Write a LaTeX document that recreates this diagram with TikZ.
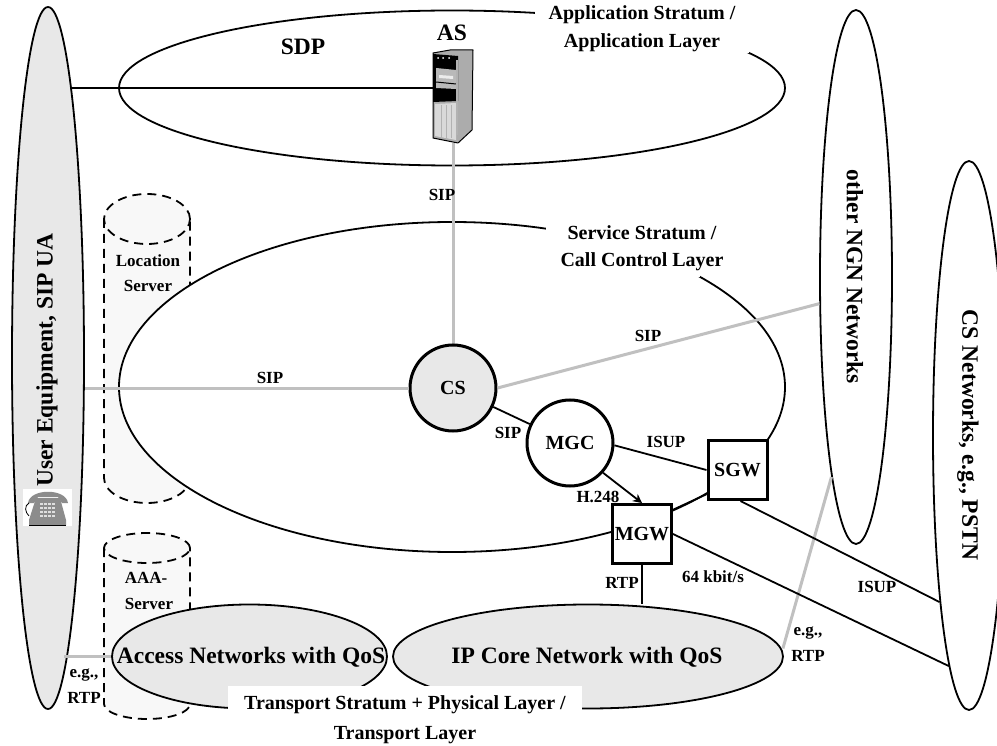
\documentclass[tikz,border=0pt]{standalone}
\usepackage{fontspec}
\setmainfont{Liberation Serif}
\usetikzlibrary{shapes.geometric}
\usetikzlibrary{arrows.meta}
\definecolor{netgray}{HTML}{E8E8E8}
\definecolor{linkgray}{HTML}{C0C0C0}
\definecolor{dbgray}{HTML}{F8F8F8}
\newcommand{\sz}[1]{\fontsize{#1}{#1}\selectfont\bfseries}
\tikzset{x=1pt, y=-1pt,
net/.style={ % the big ovals
ellipse,
draw,
line width=1.8pt,
inner sep=0pt},
stratum/.style={
net,
fill=white},
grayed/.style={
fill=netgray},
ring/.style={
circle,
draw,
line width=3pt,
minimum size=86pt,
inner sep=0pt,
font=\sz{20}},
box/.style={
rectangle,
draw,
line width=3pt,
minimum size=59pt,
inner sep=0pt,
font=\sz{20}},
txt/.style={
inner sep=0pt,
font=\sz{17}},
midtxt/.style={
inner sep=0pt,
font=\sz{20}},
bigtxt/.style={
inner sep=0pt,
font=\sz{23.5}},
link/.style={
draw,
line width=1.8pt},
graylink/.style={
draw,
linkgray,
line width=3pt},
mask/.style={
fill=white,
inner sep=0pt},
db/.style={
draw,
line width=1.8pt,
dash pattern=on 9pt off 6pt}}
% x, top y of the axis, bottom y of the axis, half height of the lid
\newcommand{\dbcan}[4]{
\fill[dbgray] (#1-43,#2) -- (#1-43,#3) arc[start angle=180, end angle=360, x radius=43pt, y radius=#4 pt]
	-- (#1+43,#2) arc[start angle=0, end angle=180, x radius=43pt, y radius=#4 pt] -- cycle;
\draw[db] (#1-43,#2) -- (#1-43,#3) arc[start angle=180, end angle=360, x radius=43pt, y radius=#4 pt] -- (#1+43,#2);
\draw[db] (#1,#2) ellipse[x radius=43pt, y radius=#4 pt];
}
\begin{document}
\begin{tikzpicture}
\useasboundingbox (0,0) rectangle (997,746);
\dbcan{147}{219}{478}{25}
\dbcan{147}{548}{704}{15}
\node[net, grayed, minimum width=72pt, minimum height=702pt] (ue) at (48,358) {};
\node[stratum, minimum width=666pt, minimum height=155pt] (app) at (452,88) {};
\node[stratum, minimum width=666pt, minimum height=330pt] (svc) at (452,387) {};
\node[net, minimum width=72pt, minimum height=534pt] (ngn) at (856,277) {};
\node[net, minimum width=72pt, minimum height=549pt] (csn) at (969,435.5) {};
\node[net, grayed, minimum width=275pt, minimum height=104pt] (access) at (249.5,656.5) {};
\node[net, grayed, minimum width=390pt, minimum height=104pt] (core) at (588,656.5) {};
% white gaps in the ovals
\node[mask, minimum width=214pt, minimum height=54pt] (appgap) at (642,26) {};
\node[mask, minimum width=154pt, minimum height=62pt] (svcgap) at (623,246) {};
\node[mask, minimum width=354pt, minimum height=61pt] (trgap) at (405,716) {};
% server
\begin{scope}[line join=round]
\fill[gray!65, draw=black, line width=1pt] (433,53) -- (450,50) -- (473,50) -- (472,130) -- (458,143) -- (433,138) -- cycle;
\fill[black] (433,54) -- (458,56) -- (458,101) -- (433,102) -- cycle;
\fill[gray!30] (435,104) -- (456,103) -- (456,140) -- (435,136) -- cycle;
\fill[gray!55] (436,68) -- (456,70) -- (456,89) -- (436,88) -- cycle;
\fill[gray!15] (439,75) -- (453,76) -- (453,79) -- (439,78) -- cycle;
\foreach \x in {438,443,449}
	\fill[white] (\x,58) circle[radius=1pt];
\foreach \x in {441,446,451}
	\draw[gray!60, line width=.5pt] (\x,105) -- (\x,138);
\draw[black, line width=1pt] (436,82) -- (456,84);
\draw[gray!60, line width=1.5pt] (457,60) -- (457,135);
\end{scope}
\node[draw=none, inner sep=0pt, minimum width=24pt, minimum height=90pt] (as) at (446,97) {};
% the links
\draw[link] (ue.85) -- (as.west |- ue.85);
\draw[graylink] (446,143) ++(7,0) coordinate (assip) -- (assip |- svc.center);
\node[ring, grayed] (cs) at (453,388) {CS};
\node[ring, fill=white] (mgc) at (570,443) {MGC};
\node[box, fill=white] (sgw) at (737.5,470) {SGW};
\node[box, fill=white] (mgw) at (642,534) {MGW};
\draw[graylink] (cs.west) -- (cs.west -| ue.east);
\draw[graylink] (cs.east) -- (ngn.216);
\draw[graylink] (access.west) -- (access.west -| ue.-87);
\draw[graylink] (core.east) ++(-1,-8) -- (ngn.-97);
\draw[link] (cs) -- (mgc);
\draw[link] (mgc.-3) -- (sgw.west);
\draw[link, -{Stealth[length=9pt,width=9pt]}] (mgc.-42) -- (mgw.north);
\draw[link] (sgw.-142) -- (mgw.38);
\draw[link] (sgw.south) ++(3,0) -- (csn.-100);
\draw[link] (mgw.east) -- (csn.-95.3);
\draw[link] (mgw.south) -- (core.north -| mgw.south);
% the texts
\node[bigtxt] (sdp) at (303,47) {SDP};
\node[bigtxt] (aslabel) at (452,33) {AS};
\node[midtxt] (apptop) at (642,15) {Application Stratum /};
\node[midtxt] (appbot) at (642,43) {Application Layer};
\node[midtxt] (svctop) at (642,233) {Service Stratum /};
\node[midtxt] (svcbot) at (642,262) {Call Control Layer};
\node[txt] at (442,195) {SIP};
\node[txt] at (270,378) {SIP};
\node[txt] at (648,336) {SIP};
\node[txt] at (508,433) {SIP};
\node[txt] at (666,442) {ISUP};
\node[txt] at (598,497) {H.248};
\node[txt] at (622,583) {RTP};
\node[txt] at (713,577) {64 kbit/s};
\node[txt] at (877,587) {ISUP};
\node[txt] at (808,633) {e.g.,};
\node[txt] at (808,656) {RTP};
\node[txt] at (84,675) {e.g.,};
\node[txt] at (84,698) {RTP};
\node[txt] at (148,261) {Location};
\node[txt] at (148,286) {Server};
\node[txt] at (146,578) {AAA-};
\node[txt] at (149,604) {Server};
\node[bigtxt] at (251,657) {Access Networks with QoS};
\node[bigtxt] at (587,657) {IP Core Network with QoS};
\node[midtxt] at (405,705) {Transport Stratum + Physical Layer /};
\node[midtxt] at (405,735) {Transport Layer};
\node[bigtxt, rotate=90] at (47,360) {User Equipment, SIP UA};
\node[bigtxt, rotate=-90] at (855,277) {other NGN Networks};
\node[bigtxt, rotate=-90] at (968,435) {CS Networks, e.g., PSTN};
% phone
\fill[white] (23,489) rectangle (72,526);
\fill[gray!90] (28,503) .. controls (30,488) and (66,488) .. (68,503) -- (62,503) -- (58,497) -- (38,497) -- (34,503) -- cycle;
\fill[gray!90] (36,498) -- (60,498) -- (66,520) -- (66,525) -- (29,525) -- (29,520) -- cycle;
\draw[black, line width=.8pt] (29,503) .. controls (24,506) and (25,512) .. (29,516);
\draw[black, line width=.8pt] (29,525) -- (66,525);
\foreach \x in {40,44,48,52}
	\foreach \y in {503,507,511,515}
		\fill[gray!25] (\x,\y) rectangle ++(2.5,2);
\end{tikzpicture}
\end{document}
